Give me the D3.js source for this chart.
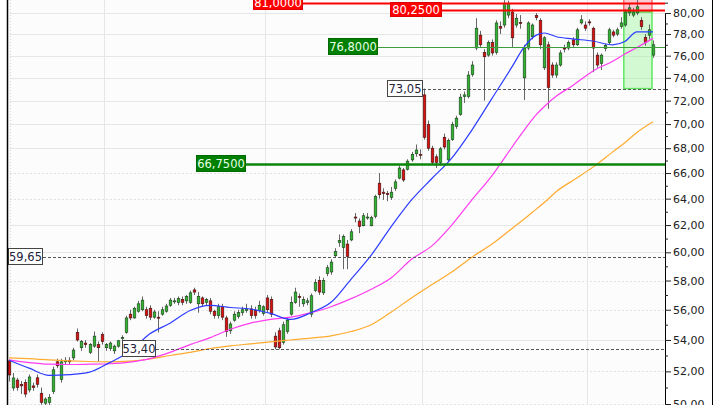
<!DOCTYPE html>
<html><head><meta charset="utf-8">
<script src="https://cdn.jsdelivr.net/npm/d3@7"></script>
<style>body{margin:0;background:#fff}svg{display:block}text{font-family:"DejaVu Sans",sans-serif}</style>
</head><body><svg id="c" width="720" height="405"></svg>
<script>
// ---- DATA ----
const opens = [52.66,50.97,51.46,51.2,51.3,50.85,51.1,51.6,50.65,50.05,
50.1,50.75,52.6,51.5,52.6,52.7,52.85,54.5,53.5,53.8,
53.2,53.6,53.7,54.35,53.5,53.45,53.3,53.6,54.1,54.5,
55.7,55.45,55.9,56.0,56.0,56.1,55.5,55.5,55.7,55.9,
56.3,56.55,56.5,56.7,56.6,56.5,57.35,56.4,56.8,56.5,
56.6,55.9,55.6,56.2,55.45,54.6,55.3,55.55,55.8,55.95,
56.05,55.95,55.95,55.75,56.8,56.7,54.25,54.6,53.85,54.55,
55.7,56.5,56.9,56.4,56.5,55.7,57.3,58.0,57.15,58.5,
58.6,59.75,60.7,60.35,60.6,60.9,62.6,62.3,61.95,62.6,
61.95,62.65,65.2,64.5,64.4,64.1,64.8,65.6,66.25,66.3,
67.05,67.55,67.5,72.5,69.95,68.0,67.3,66.85,68.9,67.05,
68.7,69.8,70.8,72.35,72.35,74.3,
76.7,77.9,76.3,76.05,77.2,76.3,78.7,78.85,79.8,80.1,
78.85,79.1,74.0,76.7,77.75,79.75,79.3,74.9,77.0,75.15,
74.25,75.15,76.7,76.7,77.45,77.0,79.05,78.85,79.15,78.55,
76.05,75.3,76.65,77.2,78.2,78.0,78.7,78.85,80.0,79.8,
80.0,79.3,77.7,77.9,76.05];
const highs = [52.72,51.9,51.6,51.4,51.5,51.8,51.3,51.8,51.0,50.4,
50.6,52.3,52.8,52.8,52.9,52.9,53.5,54.75,54.0,54.0,
53.8,54.55,53.9,54.5,53.8,53.9,53.7,54.0,54.3,55.6,
56.0,56.2,56.6,56.9,56.2,56.3,56.0,55.9,56.2,56.4,
56.8,56.8,56.9,56.9,57.0,57.3,57.5,57.2,56.9,56.8,
56.8,56.0,56.4,56.4,55.6,55.2,55.9,56.0,56.2,56.4,
56.3,56.2,56.6,56.3,57.0,56.9,54.5,54.8,55.2,55.5,
56.9,57.5,57.1,56.9,56.8,57.1,58.1,58.3,58.2,59.1,
59.5,60.3,61.3,61.3,60.9,61.7,62.9,62.5,62.9,62.9,
62.7,64.3,66.0,64.8,64.6,64.9,65.5,66.6,66.4,67.1,
67.7,68.3,67.9,73.05,70.3,68.2,67.5,68.1,69.2,68.8,
70.2,70.7,72.6,72.8,74.6,75.5,
79.5,78.3,76.6,77.4,77.5,79.3,79.2,81.25,81.2,80.4,
79.9,79.8,77.0,79.2,79.0,80.0,79.5,77.8,77.3,75.4,
75.4,76.5,77.0,77.4,77.7,78.6,79.8,79.2,79.4,78.7,
76.3,76.2,77.1,78.6,78.4,78.6,79.6,80.4,80.9,80.5,
81.25,79.6,78.0,78.9,77.4];
const lows = [51.37,50.8,50.8,50.6,50.4,50.7,50.8,51.0,49.95,49.9,
49.9,50.6,52.2,51.3,52.4,52.4,52.7,53.9,53.3,53.5,
53.1,53.5,52.6,53.7,53.3,53.3,53.1,53.5,53.9,54.4,
55.3,55.4,55.8,55.9,55.4,55.3,55.4,54.5,55.6,55.8,
56.2,56.4,56.3,56.3,56.4,56.4,57.0,55.8,56.2,56.3,
55.7,55.4,55.4,55.3,54.2,54.4,55.2,55.4,55.6,55.8,
55.4,55.4,55.8,55.6,55.8,55.5,53.4,53.4,53.7,54.4,
55.6,56.4,56.2,56.2,56.3,55.5,57.2,57.0,57.0,58.3,
58.4,59.6,60.4,58.8,58.8,60.8,62.2,61.4,61.9,62.4,
61.9,62.5,64.0,63.9,63.8,63.9,64.6,65.5,65.3,66.2,
66.9,67.3,67.1,68.7,67.8,66.7,66.4,66.6,67.9,66.9,
68.6,69.6,70.7,71.8,72.2,74.1,
76.5,76.8,72.0,75.9,76.0,76.1,78.0,78.6,79.5,76.8,
78.6,78.5,72.05,76.5,77.5,79.3,76.6,74.7,71.3,74.0,
74.0,75.0,76.3,76.5,76.8,76.9,78.9,78.3,78.8,74.5,
74.9,74.7,76.4,77.0,77.7,77.8,78.5,78.7,79.7,79.6,
79.8,78.4,76.9,77.5,75.8];
const closes = [51.78,51.59,51.0,51.1,50.6,51.65,51.0,51.2,50.1,50.3,
50.4,52.1,52.35,52.6,52.7,52.6,53.35,54.0,53.9,53.7,
53.7,54.25,53.5,53.9,53.7,53.8,53.6,53.95,54.15,55.45,
55.45,56.1,56.4,56.65,55.6,55.5,55.85,55.45,56.0,56.25,
56.65,56.6,56.75,56.5,56.9,57.15,57.2,56.9,56.4,56.7,
55.9,55.6,56.2,55.5,54.55,55.05,55.7,55.8,56.0,56.05,
55.6,55.6,56.3,56.2,56.0,55.7,53.55,53.5,55.0,55.3,
56.5,57.2,56.85,56.7,56.6,56.95,57.85,57.2,58.0,58.9,
59.3,60.05,60.85,61.15,59.7,61.5,62.55,61.9,62.7,62.6,
62.55,64.15,64.3,64.4,64.35,64.5,65.3,66.4,65.45,66.95,
67.5,67.85,67.45,68.9,68.0,66.85,66.85,67.95,68.1,68.65,
69.95,70.5,72.3,72.5,74.25,75.15,
78.55,77.0,75.9,77.2,76.25,79.05,78.55,80.95,80.9,77.65,
79.5,79.0,76.7,79.05,78.85,79.55,77.0,77.65,73.15,74.25,
75.15,76.25,76.65,77.2,77.0,78.4,79.35,78.55,79.1,76.7,
75.15,76.05,76.95,78.4,77.9,78.4,79.05,80.1,80.5,80.1,
80.6,78.7,77.2,78.4,77.0];

// moving averages at these candle indices
const maIndex = [0,5,10,15,20,25,30,35,40,45,50,55,60,65,70,75,80,85,90,95,100,105,110,115,120,125,128,131,133,136,140,145,150,153,156,160];
const maBlue = [52.7,52.2,51.75,51.8,51.95,52.55,53.25,54.4,55.1,55.95,56.3,56.15,56.05,55.75,55.35,55.8,56.5,58.1,59.8,61.9,63.9,65.55,67.2,69.5,72.2,75.0,76.8,77.9,78.1,77.75,77.55,77.35,77.0,77.3,78.2,78.2];
const maMagenta = [52.72,52.55,52.45,52.43,52.45,52.48,52.58,52.8,53.2,53.7,54.15,54.7,55.1,55.35,55.5,55.8,56.2,56.75,57.4,58.2,59.5,60.45,62.0,63.9,65.8,68.1,69.5,70.8,71.5,72.4,73.3,74.6,75.5,76.15,76.75,77.6];
const maOrange = [52.85,52.8,52.72,52.66,52.62,52.6,52.65,52.78,53.0,53.2,53.45,53.62,53.75,53.88,54.0,54.12,54.27,54.55,55.0,55.85,56.8,57.7,58.6,59.65,60.6,61.75,62.45,63.2,63.7,64.55,65.4,66.45,67.7,68.45,69.3,70.2];

const levelValues = [81.0, 80.25, 76.8, 73.05, 66.75, 59.65, 53.40];
const levelLabels = ["81,0000", "80,2500", "76,8000", "73,05", "66,7500", "59,65", "53,40"];
const tickValues = [50,52,54,56,58,60,62,64,66,68,70,72,74,76,78,80];
const minorTicks = [51,53,55,57,59,61,63,65,67,69,71,73,75,77,79,81];
const periodBreaks = [23.5, 63.5, 102.6, 143.5];
const zoneRange = [152.75, 159.75];     // candle index span of the highlighted zone
const zoneGreen = [73.05, 80.1];
const zonePink = [80.1, 82];

// ---- DRAW ----
const svg = d3.select('#c');
const PL = 8, PR = 665, H = 405;
const N = closes.length;
const x = d3.scaleLinear().domain([0, N - 1]).range([9, 653]);
const y = d3.scaleLog().domain([50, 80]).range([404, 13]);

svg.append('rect').attr('width', 720).attr('height', H).attr('fill', '#fff');
svg.append('rect').attr('x', PL).attr('y', 0).attr('width', PR - PL).attr('height', H).attr('fill', '#fbfcfb');

svg.append('clipPath').attr('id', 'clip').append('rect')
  .attr('x', PL).attr('y', 0).attr('width', PR - PL).attr('height', H);
const plot = svg.append('g').attr('clip-path', 'url(#clip)');

// grid
const solid = new Set([80,78,76,74,72,70,68,62,60,54]);
plot.append('g').selectAll('line').data(tickValues).join('line')
  .attr('x1', 10).attr('x2', PR)
  .attr('y1', d => Math.round(y(d)) + 0.5).attr('y2', d => Math.round(y(d)) + 0.5)
  .attr('stroke', d => solid.has(d) ? '#e6e6e6' : '#e2e2e2')
  .attr('stroke-dasharray', d => solid.has(d) ? null : '2,2');
plot.append('g').selectAll('line').data(periodBreaks).join('line')
  .attr('x1', d => Math.round(x(d)) + 0.5).attr('x2', d => Math.round(x(d)) + 0.5)
  .attr('y1', 0).attr('y2', H).attr('stroke', '#e6e6e6');
plot.append('line').attr('x1', 10.5).attr('x2', 10.5).attr('y1', 0).attr('y2', H)
  .attr('stroke', '#d8d8d8').attr('stroke-dasharray', '1,2');

// zones
plot.append('rect')
  .attr('x', x(zoneRange[0])).attr('width', x(zoneRange[1]) - x(zoneRange[0]))
  .attr('y', y(zonePink[1])).attr('height', y(zonePink[0]) - y(zonePink[1]))
  .attr('fill', 'rgba(255,160,180,0.55)').attr('stroke', '#ff3030').attr('stroke-width', 1);
plot.append('rect')
  .attr('x', x(zoneRange[0])).attr('width', x(zoneRange[1]) - x(zoneRange[0]))
  .attr('y', y(zoneGreen[1])).attr('height', y(zoneGreen[0]) - y(zoneGreen[1]))
  .attr('fill', 'rgba(150,245,150,0.40)').attr('stroke', '#5fe85f').attr('stroke-width', 1.5);

// candles
const idx = d3.range(N);
const cg = plot.append('g');
cg.selectAll('line').data(idx).join('line')
  .attr('x1', i => Math.round(x(i)) + 0.5).attr('x2', i => Math.round(x(i)) + 0.5)
  .attr('y1', i => y(highs[i])).attr('y2', i => y(lows[i]))
  .attr('stroke', '#666').attr('stroke-width', 1);
cg.selectAll('rect').data(idx).join('rect')
  .attr('x', i => Math.round(x(i)) - 0.8).attr('width', 2.6)
  .attr('y', i => y(Math.max(opens[i], closes[i])))
  .attr('height', i => Math.max(1, Math.abs(y(opens[i]) - y(closes[i]))))
  .attr('fill', i => closes[i] >= opens[i] ? '#2fb52f' : '#dd1010')
  .attr('stroke', i => closes[i] >= opens[i] ? '#1d3d1d' : '#3d1010')
  .attr('stroke-width', 0.6);

// moving averages
const mkLine = arr => d3.line().x((d, k) => x(maIndex[k])).y(d => y(d)).curve(d3.curveMonotoneX)(arr);
plot.append('path').attr('d', mkLine(maOrange)).attr('fill', 'none').attr('stroke', '#ffab30').attr('stroke-width', 1.2);
plot.append('path').attr('d', mkLine(maMagenta)).attr('fill', 'none').attr('stroke', '#ff3cf0').attr('stroke-width', 1.2);
plot.append('path').attr('d', mkLine(maBlue)).attr('fill', 'none').attr('stroke', '#2c3cff').attr('stroke-width', 1.2);

// levels (layout per level)
const levelStyle = [
  {x0: 253, x1: 303, fill: '#ff0000', box: '#e00000', text: '#ffffff', line: '#ff0000', w: 2, dash: null, h: 14},
  {x0: 390, x1: 442, fill: '#ff0000', box: '#e00000', text: '#ffffff', line: '#ff0000', w: 2, dash: null, h: 14},
  {x0: 328, x1: 378, fill: '#008000', box: '#006a00', text: '#e8ffe8', line: '#3d9d3d', w: 1, dash: null, h: 16},
  {x0: 387, x1: 423, fill: '#ffffff', box: '#444444', text: '#222238', line: '#555', w: 1, dash: '3,2', h: 16},
  {x0: 196, x1: 246, fill: '#008000', box: '#006a00', text: '#e8ffe8', line: '#0a850a', w: 2.5, dash: null, h: 16},
  {x0: 8, x1: 43, fill: '#ffffff', box: '#444444', text: '#222238', line: '#555', w: 1, dash: '3,2', h: 16},
  {x0: 122, x1: 156, fill: '#ffffff', box: '#444444', text: '#222238', line: '#555', w: 1, dash: '3,2', h: 16}
];
const lg = svg.append('g');
levelValues.forEach((v, k) => {
  const s = levelStyle[k];
  const yy = Math.round(y(v)) + 0.5;
  lg.append('line').attr('x1', s.x1).attr('x2', PR).attr('y1', yy).attr('y2', yy)
    .attr('stroke', s.line).attr('stroke-width', s.w).attr('stroke-dasharray', s.dash);
  lg.append('rect').attr('x', s.x0 + 0.5).attr('y', yy - s.h / 2 - 1).attr('width', s.x1 - s.x0 - 1).attr('height', s.h)
    .attr('fill', s.fill).attr('stroke', s.box).attr('stroke-width', 1);
  lg.append('text').attr('x', (s.x0 + s.x1) / 2).attr('y', yy - 1).attr('dy', '0.36em')
    .attr('text-anchor', 'middle').attr('font-size', 11.5).attr('fill', s.text).text(levelLabels[k]);
});

// frame
svg.append('line').attr('x1', 7.5).attr('x2', 7.5).attr('y1', 0).attr('y2', H).attr('stroke', '#000').attr('stroke-width', 1.5);
svg.append('line').attr('x1', 712.5).attr('x2', 712.5).attr('y1', 0).attr('y2', H).attr('stroke', '#000');

// axis
const fmt = d => d.toFixed(2).replace('.', ',');
const ax = svg.append('g').attr('transform', `translate(${PR},0)`)
  .call(d3.axisRight(y).tickValues(tickValues).tickSize(6).tickPadding(2).tickFormat(fmt));
ax.select('.domain').attr('stroke', '#000');
ax.selectAll('.tick line').attr('stroke', '#222');
ax.selectAll('text').attr('font-family', '"DejaVu Sans",sans-serif').attr('font-size', 11).attr('fill', '#222');
const axm = svg.append('g').attr('transform', `translate(${PR},0)`)
  .call(d3.axisRight(y).tickValues(minorTicks).tickSize(3).tickFormat(''));
axm.select('.domain').remove();
axm.selectAll('.tick line').attr('stroke', '#222');
</script></body></html>
